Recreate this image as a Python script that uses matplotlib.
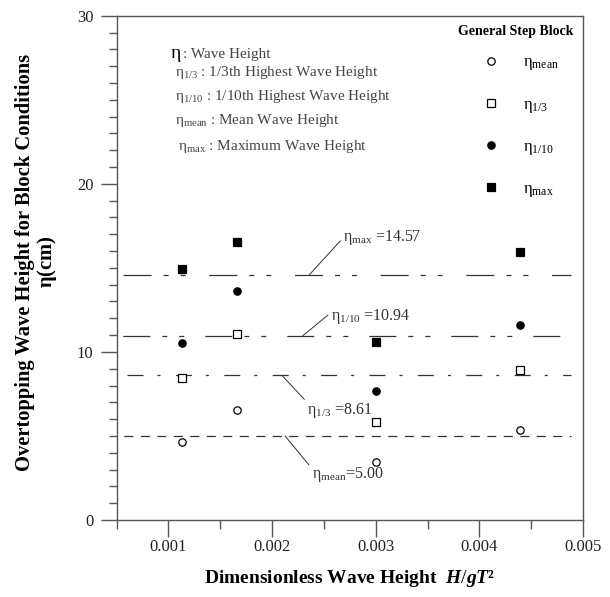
import matplotlib
matplotlib.use("Agg")
import matplotlib.pyplot as plt
from matplotlib.ticker import MultipleLocator, FixedLocator

plt.rcParams['font.family'] = ['Liberation Serif', 'DejaVu Serif']
plt.rcParams['mathtext.fontset'] = 'custom'
plt.rcParams['mathtext.rm'] = 'Liberation Serif'
plt.rcParams['mathtext.it'] = 'Liberation Serif:italic:bold'
plt.rcParams['mathtext.bf'] = 'Liberation Serif:bold'
plt.rcParams['mathtext.default'] = 'regular'
plt.rcParams['lines.scale_dashes'] = False

# ---------------- data ----------------
hgt2 = [0.00113, 0.00166, 0.00300, 0.00439]          # H/gT^2
eta_mean = [4.66, 6.52, 3.43, 5.34]
eta_13 = [8.45, 11.06, 5.81, 8.92]
eta_110 = [10.51, 13.64, 7.67, 11.62]
eta_max = [14.95, 16.52, 10.57, 15.94]

ref_names = ["max", "1/10", "1/3", "mean"]
ref_values = [14.57, 10.94, 8.61, 5.00]

x_ticks = [0.001, 0.002, 0.003, 0.004, 0.005]
x_tick_labels = ["0.001", "0.002", "0.003", "0.004", "0.005"]
y_ticks = [0, 10, 20, 30]

# ---------------- figure ----------------
W, H = 610, 597
fig = plt.figure(figsize=(W / 100, H / 100), dpi=100)
L, R, T, B = 116.5, 583, 15.7, 520
ax = fig.add_axes([L / W, 1 - B / H, (R - L) / W, (B - T) / H])

ax.set_xlim(0.0005, 0.005)
ax.set_ylim(0, 30)

spine_c = '#555555'
for s in ax.spines.values():
    s.set_color(spine_c)
    s.set_linewidth(1.0)

ax.xaxis.set_major_locator(FixedLocator(x_ticks))
ax.set_xticklabels(x_tick_labels)
ax.xaxis.set_minor_locator(FixedLocator([0.0005, 0.0015, 0.0025, 0.0035, 0.0045]))
ax.yaxis.set_major_locator(FixedLocator(y_ticks))
ax.yaxis.set_minor_locator(MultipleLocator(1))
ax.tick_params(which='both', direction='out', color=spine_c, width=1.0,
               top=False, right=False, labelsize=12, labelcolor='#222222')
ax.tick_params(axis='x', which='major', length=12, pad=2)
ax.tick_params(axis='x', which='minor', length=6.5)
ax.tick_params(axis='y', which='major', length=11.5, pad=5)
ax.tick_params(axis='y', which='minor', length=5.8)

# reference lines (dash patterns in points)
px = 0.72
line_styles = {
    "max": (79.6 * px, (28 * px, 12 * px, 5 * px, 12 * px, 5 * px, 23.7 * px)),
    "1/10": (76.2 * px, (27 * px, 12 * px, 5 * px, 12 * px, 5 * px, 21 * px)),
    "1/3": (38.4 * px, (16 * px, 14 * px, 3 * px, 15.4 * px)),
    "mean": (9.7 * px, (9 * px, 7.5 * px)),
}
for name, val in zip(ref_names, ref_values):
    ax.plot([0.0005, 0.00488], [val, val], color='#333333', lw=0.9,
            linestyle=line_styles[name])

mk = dict(linestyle='none', markersize=5.3, markeredgewidth=0.9,
          markeredgecolor='black')
h_mean, = ax.plot(hgt2, eta_mean, marker='o', markerfacecolor='white', **mk)
h_13, = ax.plot(hgt2, eta_13, marker='s', markerfacecolor='white', **mk)
h_110, = ax.plot(hgt2, eta_110, marker='o', markerfacecolor='black', **mk)
h_max, = ax.plot(hgt2, eta_max, marker='s', markerfacecolor='black', **mk)

# value annotations with leader lines
ann = {
    "max": (0.002358, (24.5, 26.9), (0.0, 0.5), r"$\eta_{max}$ =14.57"),
    "1/10": (0.002293, (20.4, 14.0), (0.0, 0.7), r"$\eta_{1/10}$ =10.94"),
    "1/3": (0.002095, (18.2, -25.5), (0.05, 0.75), r"$\eta_{1/3}$ =8.61"),
    "mean": (0.002126, (19.2, -27.4), (0.0, 0.8), r"$\eta_{mean}$=5.00"),
}
for name, val in zip(ref_names, ref_values):
    xl, off, rp, txt = ann[name]
    ax.annotate(txt, xy=(xl, val), xytext=off, textcoords='offset points',
                ha='left', va='center', fontsize=11.5, color='#333333',
                arrowprops=dict(arrowstyle='-', lw=0.7, color='#333333',
                                shrinkA=0, shrinkB=0, relpos=rp))

# description block (upper left)
tc = '#444444'
ax.text(0.1147, 0.922, r"$\eta$", transform=ax.transAxes, fontsize=14,
        va='center', ha='left', color='black')
ax.text(0.143, 0.924, ": Wave Height", transform=ax.transAxes, fontsize=11,
        va='center', ha='left', color=tc)
desc = [
    (0.1254, 0.887, r"$\eta_{1/3}$ : 1/3th Highest Wave Height"),
    (0.1254, 0.839, r"$\eta_{1/10}$ : 1/10th Highest Wave Height"),
    (0.1254, 0.792, r"$\eta_{mean}$ : Mean Wave Height"),
    (0.132, 0.740, r"$\eta_{max}$ : Maximum Wave Height"),
]
for xx, yy, s in desc:
    ax.text(xx, yy, s, transform=ax.transAxes, fontsize=11, va='center',
            ha='left', color=tc)

# legend
ax.text(0.8564, 0.9677, "General Step Block", transform=ax.transAxes,
        fontsize=10, fontweight='bold', ha='center', va='center')
leg = ax.legend([h_mean, h_13, h_110, h_max],
                [r"$\eta_{mean}$", r"$\eta_{1/3}$", r"$\eta_{1/10}$", r"$\eta_{max}$"],
                loc='upper left', bbox_to_anchor=(0.770, 0.9364),
                frameon=False, fontsize=12,
                handlelength=1.0, handletextpad=1.44, labelspacing=1.45,
                borderpad=0.4, borderaxespad=0.0)

# axis labels
ax.set_xlabel("Dimensionless Wave Height  " + r"$\mathit{H/gT}$" + "\u00b2",
              fontsize=14, fontweight='bold', labelpad=9)
fig.text(37 / W, 1 - 262 / H,
         "Overtopping Wave Height for Block Conditions\n" + r"$\eta$(cm)",
         rotation=90, ha='center', va='center', multialignment='center',
         fontsize=14.8, fontweight='bold', linespacing=1.05)

fig.savefig("out.png", dpi=100)
